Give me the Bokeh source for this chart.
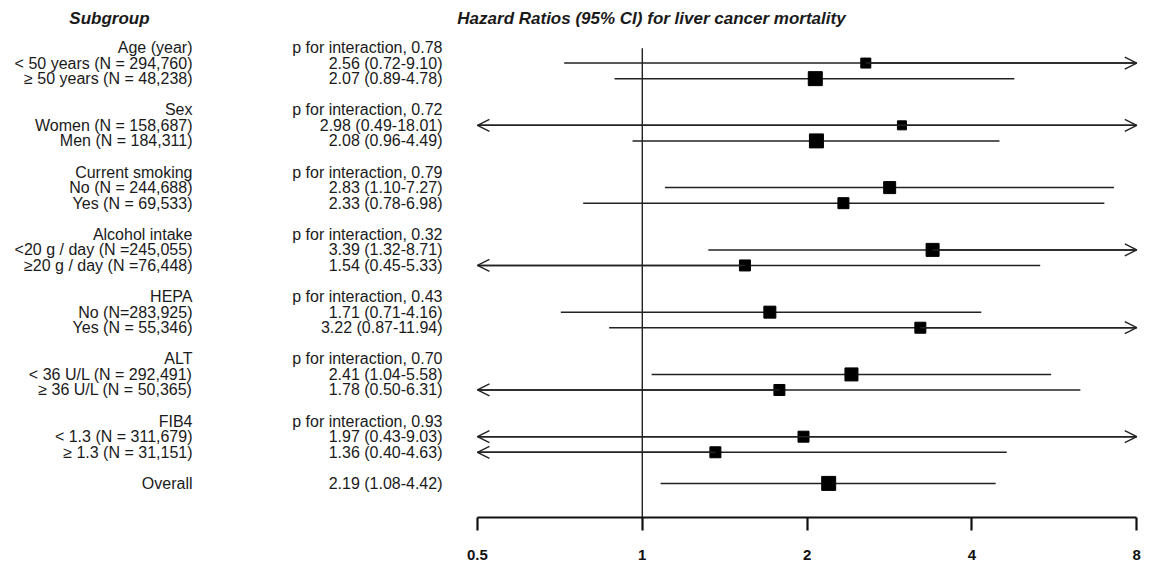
from bokeh.plotting import figure
from bokeh.models import ColumnDataSource, LabelSet, Range1d, FixedTicker, Arrow, OpenHead
from bokeh.core.properties import value
from bokeh.embed import file_html
from bokeh.resources import INLINE

# ---------------- data ----------------
groups = ["Age (year)", "Sex", "Current smoking", "Alcohol intake", "HEPA", "ALT", "FIB4"]
p_interaction = ["0.78", "0.72", "0.79", "0.32", "0.43", "0.70", "0.93"]
subgroups = [
    "< 50 years (N = 294,760)", "\u2265 50 years (N = 48,238)",
    "Women (N = 158,687)", "Men (N = 184,311)",
    "No (N = 244,688)", "Yes (N = 69,533)",
    "<20 g / day (N =245,055)", "\u226520 g / day (N =76,448)",
    "No (N=283,925)", "Yes (N = 55,346)",
    "< 36 U/L (N = 292,491)", "\u2265 36 U/L (N = 50,365)",
    "< 1.3 (N = 311,679)", "\u2265 1.3 (N = 31,151)",
]
hr = [2.56, 2.07, 2.98, 2.08, 2.83, 2.33, 3.39, 1.54, 1.71, 3.22, 2.41, 1.78, 1.97, 1.36]
lo = [0.72, 0.89, 0.49, 0.96, 1.10, 0.78, 1.32, 0.45, 0.71, 0.87, 1.04, 0.50, 0.43, 0.40]
hi = [9.10, 4.78, 18.01, 4.49, 7.27, 6.98, 8.71, 5.33, 4.16, 11.94, 5.58, 6.31, 9.03, 4.63]
box_weight = [10, 14, 9, 14, 12, 11, 13, 11, 12, 11, 13, 11, 11, 11]

overall_label = "Overall"
overall_hr = 2.19
overall_lo = 1.08
overall_hi = 4.42
overall_weight = 14

null_value = 1.0
tick_values = [0.5, 1, 2, 4, 8]
tick_labels = ["0.5", "1", "2", "4", "8"]
title_text = "Hazard Ratios (95% CI) for liver cancer mortality"
column_header = "Subgroup"

# ---------------- layout helpers ----------------
FONT = "Liberation Sans"
xmin, xmax = tick_values[0], tick_values[-1]

group_rows = [4 * i for i in range(len(groups))]
sub_rows = [4 * (k // 2) + 1 + (k % 2) for k in range(len(subgroups))]
overall_row = 4 * len(groups)

all_rows = sub_rows + [overall_row]
all_hr = hr + [overall_hr]
all_lo = lo + [overall_lo]
all_hi = hi + [overall_hi]
all_w = box_weight + [overall_weight]

Y_BOTTOM, Y_TOP = 30.19, -3.0186

p = figure(
    frame_width=1153, frame_height=517,
    x_axis_type="log",
    x_range=Range1d(0.06729, 8.583),
    y_range=Range1d(Y_BOTTOM, Y_TOP),
    output_backend="svg", toolbar_location=None,
    y_axis_location=None, min_border=0,
    background_fill_color="white", border_fill_color="white",
)
p.outline_line_color = None
p.xgrid.visible = False
p.ygrid.visible = False

# reference line at HR = 1
p.segment(x0=[null_value], x1=[null_value], y0=[0.05], y1=[Y_BOTTOM],
          line_color="#111111", line_width=1.3)

# confidence intervals (clipped to axis bounds)
ci_src = ColumnDataSource(dict(
    y=all_rows,
    x0=[max(v, xmin) for v in all_lo],
    x1=[min(v, xmax) for v in all_hi],
))
p.segment(x0="x0", x1="x1", y0="y", y1="y", source=ci_src,
          line_color="#222222", line_width=1.5)

# arrows for clipped intervals
ax0, ax1, ay = [], [], []
for y, h, l, u in zip(all_rows, all_hr, all_lo, all_hi):
    if u > xmax:
        ax0.append(h); ax1.append(xmax); ay.append(y)
    if l <= xmin:
        ax0.append(h); ax1.append(xmin); ay.append(y)
arrow_src = ColumnDataSource(dict(x0=ax0, x1=ax1, y=ay))
p.add_layout(Arrow(end=OpenHead(size=12, line_width=1.4, line_color="#222222"),
                   x_start="x0", y_start="y", x_end="x1", y_end="y",
                   source=arrow_src, line_color="#222222", line_width=1.5))

# point estimates
box_src = ColumnDataSource(dict(x=all_hr, y=all_rows, s=all_w))
p.scatter(x="x", y="y", size="s", marker="square", source=box_src,
          fill_color="black", line_color="black")

# ---------------- text columns ----------------
left_texts = groups + subgroups + [overall_label]
left_rows = group_rows + sub_rows + [overall_row]
est_texts = (["p for interaction, " + v for v in p_interaction]
             + [f"{h:.2f} ({l:.2f}-{u:.2f})" for h, l, u in zip(hr, lo, hi)]
             + [f"{overall_hr:.2f} ({overall_lo:.2f}-{overall_hi:.2f})"])

left_src = ColumnDataSource(dict(x=[192] * len(left_texts), y=left_rows, t=left_texts))
p.add_layout(LabelSet(x="x", y="y", text="t", source=left_src, x_units="screen",
                      text_align="right", text_baseline="middle",
                      text_font=value(FONT), text_font_size=value("16px"),
                      text_color="#1a1a1a"))

est_src = ColumnDataSource(dict(x=[442] * len(est_texts), y=left_rows, t=est_texts))
p.add_layout(LabelSet(x="x", y="y", text="t", source=est_src, x_units="screen",
                      text_align="right", text_baseline="middle",
                      text_font=value(FONT), text_font_size=value("16px"),
                      text_color="#1a1a1a"))

hdr_src = ColumnDataSource(dict(x=[109, 651], y=[-1.86, -1.86], t=[column_header, title_text]))
p.add_layout(LabelSet(x="x", y="y", text="t", source=hdr_src, x_units="screen",
                      text_align="center", text_baseline="middle",
                      text_font=value(FONT), text_font_size=value("17px"),
                      text_font_style="bold italic", text_color="#1a1a1a"))

# ---------------- axis ----------------
ax = p.xaxis[0]
ax.ticker = FixedTicker(ticks=tick_values)
ax.major_label_overrides = {v: t for v, t in zip(tick_values, tick_labels)}
ax.bounds = (xmin, xmax)
ax.axis_line_width = 2.2
ax.axis_line_color = "#111111"
ax.major_tick_line_width = 2.2
ax.major_tick_line_color = "#111111"
ax.major_tick_out = 13
ax.major_tick_in = 0
ax.minor_tick_line_color = None
ax.major_label_standoff = 19
ax.major_label_text_font = FONT
ax.major_label_text_font_style = "bold"
ax.major_label_text_font_size = "15px"
ax.major_label_text_color = "#111111"

open("out.html", "w").write(file_html(p, INLINE))
